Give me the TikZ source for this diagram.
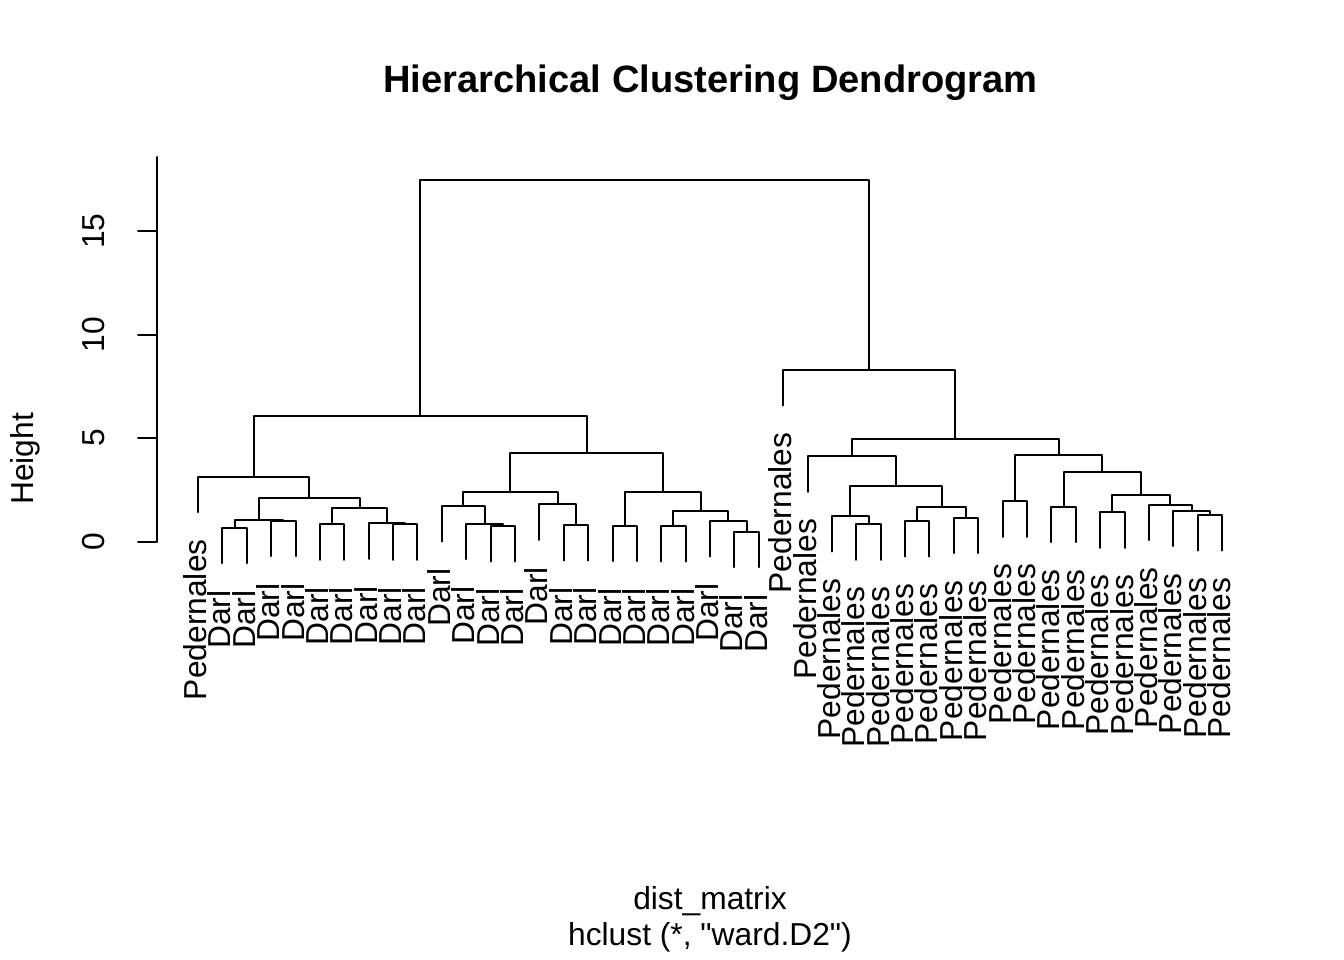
\documentclass[tikz,border=0pt]{standalone}
\usepackage{fontspec}
\setmainfont{Liberation Sans}
\newcommand\labfont{\fontsize{31.75}{36}\selectfont}
\newcommand\sq{\XeTeXglyph\XeTeXcharglyph"22\relax}
\newcommand\leafnode[4]{\coordinate (l#1) at (#2,#3); \node[lab] (t#1) at (#2+8.5,#3+27) {#4};}
\newcommand\mergenode[5]{\coordinate (#1) at (#4,#5); \draw[edge] (#2) |- (#1) -| (#3);}
\begin{document}
\begin{tikzpicture}[x=1pt,y=-1pt,
  edge/.style={line width=2pt, line cap=round, line join=round},
  lab/.style={rotate=90, anchor=base east, inner sep=0pt, font=\labfont},
  ticklab/.style={rotate=90, anchor=base, inner sep=0pt, font=\labfont}]
\useasboundingbox (0,0) rectangle (1344,960);
% title and axis texts
\node[anchor=base, inner sep=0pt, font=\bfseries\fontsize{38.1}{44}\selectfont] (title) at (710.5,93) {Hierarchical Clustering Dendrogram};
\node[anchor=base, inner sep=0pt, font=\labfont] (xlab) at (710,909) {dist\_matrix};
\node[anchor=base, inner sep=0pt, font=\labfont] (sub) at (710,945) {hclust (*, \sq ward.D2\sq)};
\node[ticklab] (ylab) at (34,459) {Height};
% y axis
\coordinate (axtop) at (157,157);
\coordinate (ax0) at (157,541.5);
\draw[edge] (axtop) -- (ax0);
\foreach \v/\yy in {0/541.5,5/438,10/334.5,15/231}{
  \coordinate (tk\v) at (157,\yy);
  \draw[edge] (tk\v) -- ++(-19,0);
  \node[ticklab] (tl\v) at (104,\yy) {\v};
}
% leaves
\leafnode{1}{198.0}{512.2}{Pedernales}
\leafnode{2}{222.4}{563.2}{Darl}
\leafnode{3}{246.8}{563.2}{Darl}
\leafnode{4}{271.1}{556.2}{Darl}
\leafnode{5}{295.5}{556.2}{Darl}
\leafnode{6}{319.9}{559.8}{Darl}
\leafnode{7}{344.3}{559.8}{Darl}
\leafnode{8}{368.7}{558.8}{Darl}
\leafnode{9}{393.0}{559.8}{Darl}
\leafnode{10}{417.4}{559.8}{Darl}
\leafnode{11}{441.8}{541.5}{Darl}
\leafnode{12}{466.2}{559.2}{Darl}
\leafnode{13}{490.6}{561.5}{Darl}
\leafnode{14}{515.0}{561.5}{Darl}
\leafnode{15}{539.3}{539.8}{Darl}
\leafnode{16}{563.7}{560.5}{Darl}
\leafnode{17}{588.1}{560.5}{Darl}
\leafnode{18}{612.5}{561.2}{Darl}
\leafnode{19}{636.9}{561.2}{Darl}
\leafnode{20}{661.2}{561.5}{Darl}
\leafnode{21}{685.6}{561.5}{Darl}
\leafnode{22}{710.0}{556.5}{Darl}
\leafnode{23}{734.4}{567.2}{Darl}
\leafnode{24}{758.8}{567.2}{Darl}
\leafnode{25}{783.1}{405.5}{Pedernales}
\leafnode{26}{807.5}{491.8}{Pedernales}
\leafnode{27}{831.9}{551.5}{Pedernales}
\leafnode{28}{856.3}{559.8}{Pedernales}
\leafnode{29}{880.7}{559.8}{Pedernales}
\leafnode{30}{905.1}{556.5}{Pedernales}
\leafnode{31}{929.4}{556.5}{Pedernales}
\leafnode{32}{953.8}{553.2}{Pedernales}
\leafnode{33}{978.2}{553.2}{Pedernales}
\leafnode{34}{1002.6}{536.8}{Pedernales}
\leafnode{35}{1027.0}{536.8}{Pedernales}
\leafnode{36}{1051.3}{542.2}{Pedernales}
\leafnode{37}{1075.7}{542.2}{Pedernales}
\leafnode{38}{1100.1}{547.8}{Pedernales}
\leafnode{39}{1124.5}{547.8}{Pedernales}
\leafnode{40}{1148.9}{540.2}{Pedernales}
\leafnode{41}{1173.2}{546.2}{Pedernales}
\leafnode{42}{1197.6}{550.5}{Pedernales}
\leafnode{43}{1222.0}{550.5}{Pedernales}
% left cluster, subtree A
\mergenode{p23}{l2}{l3}{234.6}{527.7}
\mergenode{p45}{l4}{l5}{283.3}{520.7}
\mergenode{a1}{p23}{p45}{259.0}{520.0}
\mergenode{p67}{l6}{l7}{332.1}{524.3}
\mergenode{p910}{l9}{l10}{405.2}{524.3}
\mergenode{p8910}{l8}{p910}{387.0}{523.3}
\mergenode{a2}{p67}{p8910}{359.5}{507.7}
\mergenode{ap}{a1}{a2}{309.3}{497.7}
\mergenode{A}{l1}{ap}{253.6}{476.7}
% subtree B
\mergenode{p1314}{l13}{l14}{502.8}{526.0}
\mergenode{b12}{l12}{p1314}{484.5}{523.7}
\mergenode{b1a}{l11}{b12}{463.2}{506.0}
\mergenode{p1617}{l16}{l17}{575.9}{525.0}
\mergenode{b1b}{l15}{p1617}{557.6}{504.3}
\mergenode{B1}{b1a}{b1b}{510.4}{492.3}
\mergenode{p1819}{l18}{l19}{624.7}{525.7}
\mergenode{p2021}{l20}{l21}{673.4}{526.0}
\mergenode{p2324}{l23}{l24}{746.6}{531.7}
\mergenode{b22}{l22}{p2324}{728.3}{521.0}
\mergenode{b2b}{p2021}{b22}{700.9}{510.7}
\mergenode{B2}{p1819}{b2b}{662.8}{491.7}
\mergenode{B}{B1}{B2}{586.6}{452.7}
\mergenode{L}{A}{B}{420.1}{416.0}
% right cluster
\mergenode{p2829}{l28}{l29}{868.5}{524.3}
\mergenode{r27}{l27}{p2829}{850.2}{516.0}
\mergenode{p3031}{l30}{l31}{917.3}{521.0}
\mergenode{p3233}{l32}{l33}{966.0}{517.7}
\mergenode{r30}{p3031}{p3233}{941.7}{507.0}
\mergenode{r1b}{r27}{r30}{896.0}{485.7}
\mergenode{R1}{l26}{r1b}{851.8}{456.3}
\mergenode{p3435}{l34}{l35}{1014.8}{501.3}
\mergenode{p3637}{l36}{l37}{1063.5}{506.7}
\mergenode{p3839}{l38}{l39}{1112.3}{512.3}
\mergenode{p4243}{l42}{l43}{1209.8}{515.0}
\mergenode{r41}{l41}{p4243}{1191.5}{510.7}
\mergenode{r40}{l40}{r41}{1170.2}{504.7}
\mergenode{r2c}{p3839}{r40}{1141.3}{494.7}
\mergenode{r2b}{p3637}{r2c}{1102.4}{472.0}
\mergenode{R2}{p3435}{r2b}{1058.6}{455.3}
\mergenode{Rp}{R1}{R2}{955.2}{439.0}
\mergenode{R}{l25}{Rp}{869.2}{370.0}
\mergenode{top}{L}{R}{644.6}{180.0}
\end{tikzpicture}
\end{document}
